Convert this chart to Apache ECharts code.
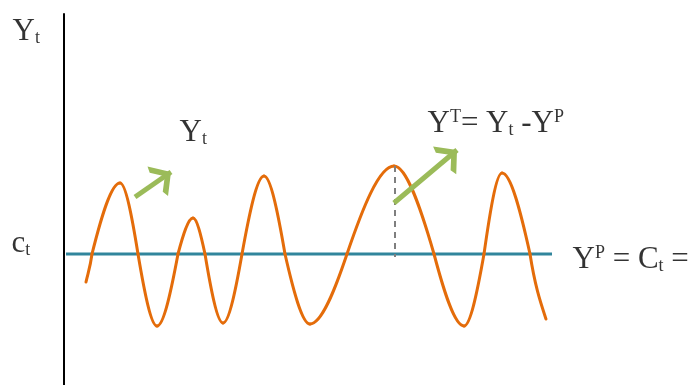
<!DOCTYPE html>
<html>
<head>
<meta charset="utf-8">
<script src="https://cdn.jsdelivr.net/npm/echarts@6/dist/echarts.min.js"></script>
<style>
  html, body { margin: 0; padding: 0; background: #fff; }
  #chart { width: 691px; height: 385px; }
</style>
</head>
<body>
<div id="chart"></div>
<script>
// output Y_t: turning points and crossings of the trend (t, deviation)
var waveT = [2.2, 2.8, 5.6, 7.4, 9.3, 11.4, 12.9, 14.1, 15.9, 17.8, 20.0, 22.1, 24.6, 28.3, 33.0, 37.0, 40.0, 42.0, 43.8, 46.6, 48.2]
var waveY = [-2.8, 0, 7.1, 0, -7.2, 0, 3.6, 0, -6.9, 0, 7.8, 0, -7.0, 0, 8.8, 0, -7.2, 0, 8.1, 0, -6.5]

// trend Y^P = C_t
var trendT = [0.2, 48.8]
var trendY = [0, 0]

// gap Y^T at the big peak
var gapLine = [[33.1, 8.8], [33.1, -0.3]]

// pointer arrows
var arrows = [
  [[7.1, 5.7], [10.7, 8.2]],
  [[33.0, 5.1], [39.3, 10.4]]
]

// text labels and where their baseline starts
var labelPos = [[-5.1, 21.3], [-5.2, 0.1], [11.6, 11.2], [36.4, 12.1], [50.9, -1.5]]
var labelText = [
  '{m|Y}{sub|t}',
  '{m|c}{sub|t}',
  '{m|Y}{sub|t}',
  '{m|Y}{sup|T}{m|= Y}{sub|t}{m| -Y}{sup|P}',
  '{m|Y}{sup|P}{m| = C}{sub|t}{m| =}'
]

var chartDom = document.getElementById('chart')
var myChart = echarts.init(chartDom)

var serif = 'Liberation Serif'
var rich = {
  m: { fontFamily: serif, fontSize: 31, lineHeight: 31, color: '#000' },
  sub: { fontFamily: serif, fontSize: 18, lineHeight: 13, verticalAlign: 'bottom', color: '#000' },
  sup: { fontFamily: serif, fontSize: 18, lineHeight: 22, verticalAlign: 'top', color: '#000' }
}

// open chevron, tip at the middle of the symbol box so it lands on the line end
var arrowHead = 'path://M0,-19 L0,-19 M0,0 L11,17 L7,19 L0,8 L-7,19 L-11,17 Z'

// one segment per pair of neighbouring points
var segments = []
for (var i = 1; i < waveT.length; i++) {
  segments.push([waveT[i - 1], waveY[i - 1], waveT[i], waveY[i]])
}
var lastSeg = segments.length - 1

// quarter waves drawn as sine-shaped cubic curves
function renderWave(params, api) {
  var k = params.dataIndex
  var a = api.coord([api.value(0), api.value(1)])
  var b = api.coord([api.value(2), api.value(3)])
  var dx = b[0] - a[0]
  var dy = b[1] - a[1]
  var c1, c2
  if (k === 0) {
    c1 = [a[0] + dx / 3, a[1] + dy / 3]
  } else if (api.value(1) === 0) {
    c1 = [a[0] + 0.326 * dx, a[1] + 0.512 * dy]
  } else {
    c1 = [a[0] + 0.318 * dx, a[1]]
  }
  if (k === lastSeg) {
    c2 = [b[0] - dx / 3, b[1] - 0.25 * dy]
  } else if (api.value(3) === 0) {
    c2 = [b[0] - 0.326 * dx, b[1] - 0.512 * dy]
  } else {
    c2 = [b[0] - 0.318 * dx, b[1]]
  }
  return {
    type: 'bezierCurve',
    shape: {
      x1: a[0], y1: a[1], x2: b[0], y2: b[1],
      cpx1: c1[0], cpy1: c1[1], cpx2: c2[0], cpy2: c2[1]
    },
    style: { stroke: '#e46c0a', lineWidth: 3, fill: null, lineCap: 'round' }
  }
}

var option = {
  animation: false,
  backgroundColor: '#fff',
  grid: { left: 0, right: 0, top: 14, bottom: 0 },
  xAxis: {
    type: 'value',
    min: -6.4,
    max: 62.7,
    show: false
  },
  yAxis: {
    type: 'value',
    min: -13.1,
    max: 24,
    axisLine: { show: true, onZero: true, lineStyle: { color: '#000', width: 2 } },
    axisTick: { show: false },
    axisLabel: { show: false },
    splitLine: { show: false }
  },
  series: [
    {
      type: 'line',
      data: trendT.map(function (t, i) { return [t, trendY[i]] }),
      symbol: 'none',
      lineStyle: { color: '#31859c', width: 3 },
      z: 2
    },
    {
      type: 'custom',
      renderItem: renderWave,
      data: segments,
      encode: { x: [0, 2], y: [1, 3] },
      z: 3
    },
    {
      type: 'line',
      data: gapLine,
      symbol: 'none',
      lineStyle: { color: '#7f7f7f', width: 2, type: [6, 5] },
      z: 4
    },
    {
      type: 'lines',
      coordinateSystem: 'cartesian2d',
      data: arrows.map(function (a) { return { coords: a } }),
      symbol: ['none', arrowHead],
      symbolSize: [20, 36],
      lineStyle: { color: '#9bbb59', width: 5, opacity: 1, curveness: 0 },
      itemStyle: { color: '#9bbb59' },
      z: 5
    },
    {
      type: 'scatter',
      clip: false,
      symbolSize: 1,
      itemStyle: { color: 'transparent' },
      data: labelPos.map(function (p, i) {
        return {
          value: p,
          label: {
            show: true,
            position: [0, 7],
            align: 'left',
            verticalAlign: 'bottom',
            formatter: labelText[i],
            rich: rich
          }
        }
      }),
      z: 6
    }
  ]
}

option && myChart.setOption(option)
</script>
</body>
</html>
